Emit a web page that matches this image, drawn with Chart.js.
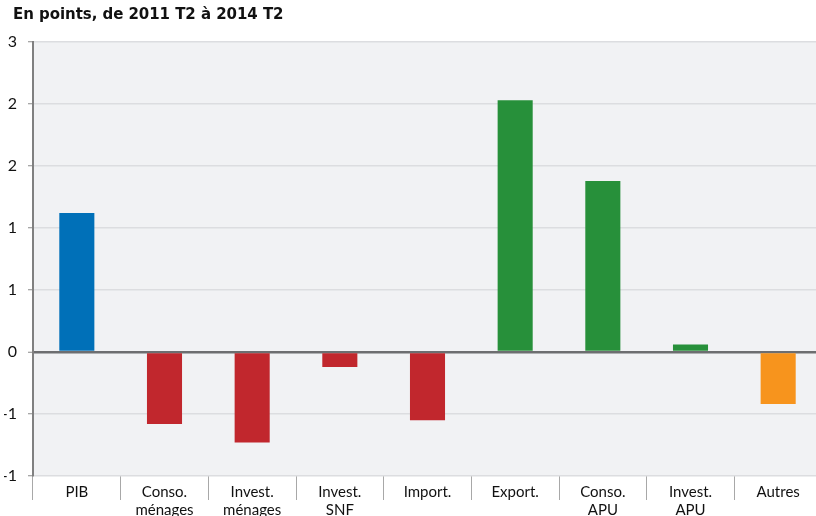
<!DOCTYPE html>
<html>
<head>
<meta charset="utf-8">
<script src="https://cdn.jsdelivr.net/npm/chart.js@4"></script>
<style>
  html, body { margin: 0; padding: 0; background: #fff; overflow: hidden; }
  .wrap { width: 822px; height: 519px; position: relative; }
  .title {
    position: absolute; left: 13px; top: 5px;
    font: bold 15px 'DejaVu Sans', sans-serif; line-height: 18px;
    color: #111; letter-spacing: -0.05px;
  }
</style>
</head>
<body>
<div class="wrap">
  <canvas id="chart"></canvas>
  <div class="title">En points, de 2011 T2 à 2014 T2</div>
</div>
<script>
const categories = [
  ['PIB'], ['Conso.', 'ménages'], ['Invest.', 'ménages'], ['Invest.', 'SNF'],
  ['Import.'], ['Export.'], ['Conso.', 'APU'], ['Invest.', 'APU'], ['Autres']
];
const values = [1.12, -0.58, -0.73, -0.12, -0.55, 2.03, 1.38, 0.06, -0.42];
const barColors = ['#0070b8', '#c1272d', '#c1272d', '#c1272d', '#c1272d',
                   '#27903a', '#27903a', '#27903a', '#f7941d'];
const tickValues = [-1, -0.5, 0, 0.5, 1, 1.5, 2, 2.5];
const tickLabels = ['-1', '-1', '0', '1', '1', '2', '2', '3'];

const plotBg = {
  id: 'plotBg',
  beforeDraw(chart) {
    const { ctx, chartArea: a } = chart;
    ctx.save();
    ctx.fillStyle = '#f1f2f4';
    ctx.fillRect(a.left, a.top, a.right - a.left, a.bottom - a.top);
    ctx.restore();
  }
};

const font = "Lato, 'Open Sans', sans-serif";

new Chart(document.getElementById('chart'), {
  type: 'bar',
  data: {
    labels: categories,
    datasets: [{
      data: values,
      backgroundColor: barColors,
      barPercentage: 0.4,
      categoryPercentage: 1
    }]
  },
  options: {
    responsive: true,
    maintainAspectRatio: false,
    animation: false,
    layout: { padding: { left: 4, right: 0, top: 42, bottom: 0 } },
    plugins: {
      legend: { display: false },
      tooltip: { enabled: false },
      title: { display: false }
    },
    scales: {
      x: {
        offset: true,
        afterFit(axis) { axis.height = 43; },
        grid: {
          offset: true,
          drawOnChartArea: false,
          drawTicks: true,
          tickLength: 24,
          color: '#a8a8a8',
          lineWidth: 1
        },
        border: { display: false },
        ticks: {
          color: '#111',
          padding: -17,
          maxRotation: 0,
          autoSkip: false,
          font: { family: font, size: 15, lineHeight: 1.2 }
        }
      },
      y: {
        min: -1,
        max: 2.5,
        afterFit(axis) { axis.width = 29; },
        afterBuildTicks(axis) {
          axis.ticks = tickValues.map(v => ({ value: v }));
        },
        grid: {
          color: ctx => ctx.tick && ctx.tick.value === 0 ? '#6d6e70' : '#dcdde0',
          lineWidth: ctx => ctx.tick && ctx.tick.value === 0 ? 2.5 : 1.5,
          tickLength: 5,
          tickColor: '#8a8a8a',
          tickWidth: 1
        },
        border: { color: '#808080', width: 2 },
        ticks: {
          color: '#111',
          padding: 11,
          font: { family: font, size: 16 },
          callback: (v) => tickLabels[tickValues.indexOf(v)]
        }
      }
    }
  },
  plugins: [plotBg]
});
</script>
</body>
</html>
